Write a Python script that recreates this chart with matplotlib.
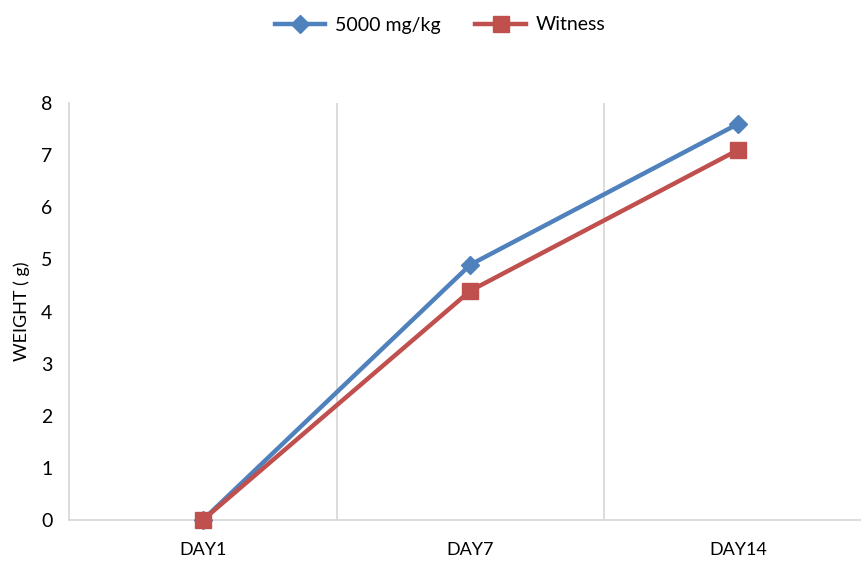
import matplotlib.pyplot as plt

# data
days = ['DAY1', 'DAY7', 'DAY14']
dose_5000 = [0, 4.9, 7.6]
witness = [0, 4.4, 7.1]

plt.rcParams['font.family'] = ['Lato', 'DejaVu Sans']

fig = plt.figure(figsize=(8.61, 5.81), dpi=100)
ax = fig.add_axes([69 / 861, 1 - 520 / 581, (872 - 69) / 861, (520 - 103) / 581])

x = range(len(days))
ax.plot(x, dose_5000, color='#4F81BD', lw=3.2, marker='D', ms=9,
        label='5000 mg/kg', clip_on=False, zorder=3)
ax.plot(x, witness, color='#C0504D', lw=3.2, marker='s', ms=11,
        label='Witness', clip_on=False, zorder=3)

ax.set_xlim(-0.5, 2.5)
ax.set_ylim(0, 8)
ax.set_xticks(list(x))
ax.set_xticklabels(days, fontsize=13)
ax.set_yticks(range(0, 9))
ax.tick_params(axis='y', length=0, labelsize=14, pad=12)
ax.tick_params(axis='x', length=0, pad=16)

# category separators
for b in [0.5, 1.5]:
    ax.axvline(b, color='#D9D9D9', lw=1.3, zorder=1)

for side in ['top', 'right']:
    ax.spines[side].set_visible(False)
for side in ['left', 'bottom']:
    ax.spines[side].set_color('#D9D9D9')
    ax.spines[side].set_linewidth(1.3)

ax.set_ylabel('WEIGHT ( g)', fontsize=13, labelpad=8)

fig.legend(loc='center', bbox_to_anchor=(440 / 861, 1 - 25 / 581), ncol=2,
           frameon=False, fontsize=14, handlelength=2.6, handletextpad=0.5,
           columnspacing=1.8)

fig.savefig('out.png', dpi=100)
